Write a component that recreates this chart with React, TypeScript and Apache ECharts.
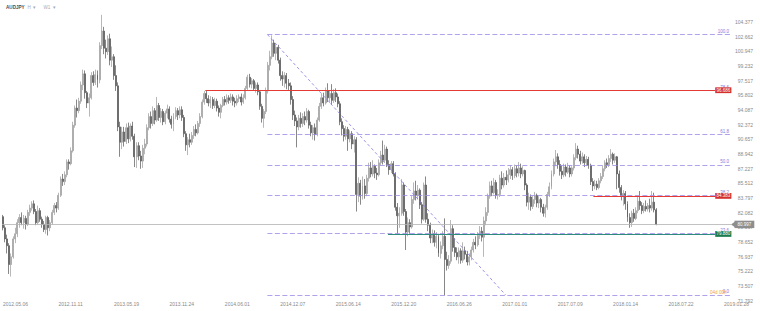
import React, { useEffect, useRef } from "react";
import * as echarts from "echarts";

// ---- Axis texts ----
const xTickLabels = [
  "2012.05.06", "2012.11.11", "2013.05.19", "2013.11.24", "2014.06.01", "2014.12.07", "2015.06.14",
  "2015.12.20", "2016.06.26", "2017.01.01", "2017.07.09", "2018.01.14", "2018.07.22", "2019.01.28",
];
const WEEKS_PER_LABEL = 27;
const TOTAL_SLOTS = 369; // weekly slots shown on the x axis (incl. empty future space)
const yMin = 71.792;
const yMax = 106.092;
const yStep = 1.715;

// ---- Weekly candles [open, close, low, high] ----
const candles2012to2013: number[][] = [
  [81.9, 80.6, 80.3, 82.1], [80.6, 79.3, 78.9, 80.9], [79.3, 78.5, 77.6, 79.8], [78.5, 76.3, 75.2, 78.8],
  [76.3, 77.2, 74.9, 77.6], [77.2, 79.3, 77.0, 79.6], [79.3, 79.9, 78.8, 80.6], [79.9, 81.2, 79.5, 81.6],
  [81.2, 81.8, 80.6, 82.2], [81.8, 81.2, 80.9, 82.4], [81.2, 81.7, 80.5, 82.1], [81.7, 81.0, 80.4, 82.0],
  [81.0, 82.4, 80.8, 82.7], [82.4, 82.9, 82.0, 83.3], [82.9, 83.4, 82.6, 83.7], [83.4, 82.5, 82.2, 83.8],
  [82.5, 81.2, 80.9, 82.8], [81.2, 82.6, 81.0, 83.2], [82.6, 81.6, 81.3, 82.9], [81.6, 81.0, 80.6, 81.9],
  [81.0, 80.4, 80.1, 81.4], [80.4, 81.8, 79.9, 82.0], [81.8, 80.6, 79.7, 82.0], [80.6, 81.2, 80.2, 81.5],
  [81.2, 82.4, 81.0, 82.7], [82.4, 83.2, 82.1, 83.5], [83.2, 82.9, 82.4, 83.6], [82.9, 84.4, 82.7, 84.7],
  [84.4, 86.3, 84.2, 86.6], [86.3, 86.0, 85.5, 86.9], [86.0, 86.8, 85.6, 87.2], [86.8, 88.3, 86.5, 88.6],
  [88.3, 88.1, 87.4, 88.6], [88.1, 89.6, 87.9, 90.0], [89.6, 92.6, 89.4, 93.0], [92.6, 94.6, 92.3, 94.9],
  [94.6, 94.3, 93.5, 95.6], [94.3, 95.4, 94.0, 95.8], [95.4, 97.3, 95.1, 97.7], [97.3, 98.6, 96.7, 99.1],
  [98.6, 96.4, 95.7, 99.0], [96.4, 95.2, 94.6, 96.6], [95.2, 95.8, 93.6, 96.3], [95.8, 98.4, 95.6, 98.8],
  [98.4, 97.6, 97.2, 98.9], [97.6, 98.5, 97.3, 99.1], [98.5, 97.9, 97.0, 99.0], [97.9, 101.9, 97.5, 102.3],
  [101.9, 103.6, 101.5, 105.5], [103.6, 101.6, 100.9, 104.1], [101.6, 101.2, 100.4, 102.6], [101.2, 102.7, 100.8, 103.1],
  [102.7, 100.2, 99.6, 103.3], [100.2, 100.6, 99.4, 101.8], [100.6, 98.4, 97.9, 100.9], [98.4, 97.2, 96.6, 99.6],
  [97.2, 92.4, 91.9, 97.6], [92.4, 90.6, 88.9, 93.0], [90.6, 91.8, 89.8, 92.4], [91.8, 90.7, 90.1, 92.4],
  [90.7, 92.3, 90.4, 92.8], [92.3, 91.0, 90.5, 92.9], [91.0, 92.5, 90.7, 92.8], [92.5, 91.3, 90.9, 93.0],
  [91.3, 88.9, 87.7, 91.6],
];

const candles2013to2014: number[][] = [
  [88.9, 90.2, 87.6, 90.6], [90.2, 89.0, 88.5, 90.6], [89.0, 88.4, 87.5, 89.6], [88.4, 89.9, 87.6, 90.3],
  [89.9, 90.4, 89.2, 91.0], [90.4, 92.3, 90.1, 92.7], [92.3, 93.6, 92.0, 94.0], [93.6, 92.8, 92.2, 94.2],
  [92.8, 94.3, 92.5, 94.8], [94.3, 93.2, 92.7, 94.6], [93.2, 94.9, 93.0, 95.9], [94.9, 93.5, 93.1, 95.2],
  [93.5, 94.2, 92.9, 94.6], [94.2, 93.0, 92.6, 94.5], [93.0, 94.0, 92.7, 94.3], [94.0, 94.5, 93.4, 95.0],
  [94.5, 93.3, 92.9, 94.8], [93.3, 92.7, 92.2, 93.7], [92.7, 93.6, 91.9, 94.0], [93.6, 94.3, 93.3, 94.7],
  [94.3, 93.8, 93.2, 94.6], [93.8, 94.4, 93.4, 94.8], [94.4, 93.5, 93.1, 94.8], [93.5, 91.6, 91.2, 93.8],
  [91.6, 90.3, 89.6, 91.9], [90.3, 90.9, 89.1, 91.2], [90.9, 90.6, 90.0, 91.6], [90.6, 91.4, 90.3, 91.8],
  [91.4, 92.1, 91.0, 92.5], [92.1, 91.7, 91.3, 92.7], [91.7, 92.8, 91.5, 93.1], [92.8, 93.6, 92.4, 94.0],
  [93.6, 95.3, 93.4, 95.6], [95.3, 96.3, 95.0, 96.6], [96.3, 95.7, 95.2, 96.7], [95.7, 95.2, 94.8, 96.1],
  [95.2, 95.6, 94.6, 96.0], [95.6, 94.9, 94.5, 95.9], [94.9, 95.4, 94.6, 95.8], [95.4, 94.6, 94.2, 95.7],
  [94.6, 94.1, 93.6, 94.9], [94.1, 94.9, 93.4, 95.1], [94.9, 95.6, 94.7, 95.9], [95.6, 95.3, 94.9, 96.0],
  [95.3, 95.8, 95.0, 96.2], [95.8, 95.5, 95.1, 96.1], [95.5, 95.9, 95.2, 96.3], [95.9, 95.4, 94.9, 96.2],
  [95.4, 95.2, 94.7, 95.8], [95.2, 95.7, 94.9, 96.1], [95.7, 95.9, 95.3, 96.2], [95.9, 95.3, 94.9, 96.3],
  [95.3, 95.8, 95.1, 96.2], [95.8, 96.9, 95.6, 97.2], [96.9, 98.2, 96.7, 98.5], [98.2, 97.4, 97.0, 98.6],
  [97.4, 97.8, 96.9, 98.1], [97.8, 96.9, 96.6, 98.0], [96.9, 97.3, 96.4, 97.6], [97.3, 96.5, 96.1, 97.6],
  [96.5, 94.8, 94.4, 96.6], [94.8, 93.4, 92.9, 95.1], [93.4, 94.2, 92.3, 94.5], [94.2, 96.6, 93.9, 97.0],
];

const candles2014to2016: number[][] = [
  [96.6, 99.6, 96.3, 100.0], [99.6, 100.6, 99.0, 101.3], [100.6, 102.2, 100.3, 103.1], [102.2, 101.0, 100.6, 102.6],
  [101.0, 101.7, 100.2, 102.1], [101.7, 100.2, 99.8, 102.0], [100.2, 98.4, 97.8, 100.5], [98.4, 98.0, 97.2, 98.9],
  [98.0, 98.4, 97.0, 98.8], [98.4, 97.5, 96.8, 98.7], [97.5, 97.2, 96.6, 98.0], [97.2, 95.6, 95.0, 97.6],
  [95.6, 93.8, 93.2, 96.0], [93.8, 93.1, 92.5, 94.3], [93.1, 92.4, 90.0, 93.5], [92.4, 93.4, 92.0, 93.8],
  [93.4, 92.8, 92.3, 94.1], [92.8, 93.6, 92.4, 94.0], [93.6, 93.2, 92.6, 94.2], [93.2, 94.2, 92.9, 94.6],
  [94.2, 92.6, 92.2, 94.4], [92.6, 91.7, 91.3, 93.0], [91.7, 92.3, 90.9, 92.6], [92.3, 91.5, 90.8, 92.8],
  [91.5, 93.2, 91.3, 93.5], [93.2, 94.8, 93.0, 95.2], [94.8, 95.8, 94.5, 96.3], [95.8, 95.2, 94.8, 96.4],
  [95.2, 96.6, 95.0, 97.0], [96.6, 95.8, 95.3, 97.5], [95.8, 96.3, 95.2, 96.7], [96.3, 95.5, 95.0, 97.4],
  [95.5, 96.4, 95.2, 96.8], [96.4, 95.9, 95.3, 96.9], [95.9, 95.1, 94.7, 96.3], [95.1, 93.0, 92.6, 95.4],
  [93.0, 92.2, 91.4, 93.4], [92.2, 91.3, 90.7, 92.6], [91.3, 92.1, 90.9, 92.5], [92.1, 91.0, 89.6, 92.4],
  [91.0, 91.6, 90.6, 92.0], [91.6, 90.4, 89.8, 91.9], [90.4, 90.9, 89.4, 91.3], [90.9, 84.5, 82.5, 91.2],
  [84.5, 85.8, 83.6, 86.5], [85.8, 84.3, 83.3, 86.2], [84.3, 85.5, 83.9, 86.6], [85.5, 84.6, 84.0, 86.3],
  [84.6, 86.4, 84.3, 86.8], [86.4, 87.6, 86.0, 88.2], [87.6, 86.9, 86.5, 88.3], [86.9, 87.8, 86.6, 88.5],
  [87.8, 87.0, 86.4, 88.0], [87.0, 86.8, 86.2, 87.6], [86.8, 88.2, 86.6, 88.6], [88.2, 89.1, 87.9, 89.6],
  [89.1, 88.5, 88.0, 90.8], [88.5, 89.8, 88.2, 90.3], [89.8, 88.0, 87.7, 90.1], [88.0, 87.4, 86.8, 88.5],
  [87.4, 88.1, 87.0, 88.4], [88.1, 86.9, 86.6, 88.4], [86.9, 83.0, 82.6, 87.1], [83.0, 82.0, 79.8, 83.5],
];

const candles2016to2017: number[][] = [
  [82.0, 82.3, 80.6, 83.0], [82.3, 85.6, 82.0, 86.3], [85.6, 82.5, 82.0, 85.9], [82.5, 80.1, 78.0, 82.8],
  [80.1, 81.2, 79.6, 81.8], [81.2, 80.7, 79.9, 81.6], [80.7, 83.9, 80.5, 84.3], [83.9, 84.9, 83.4, 85.9],
  [84.9, 84.4, 83.8, 86.1], [84.4, 85.0, 83.9, 85.6], [85.0, 83.3, 82.8, 85.2], [83.3, 81.6, 81.1, 83.6],
  [81.6, 85.6, 81.4, 85.9], [85.6, 81.6, 81.2, 86.6], [81.6, 80.9, 80.2, 82.3], [80.9, 79.4, 78.8, 81.2],
  [79.4, 79.9, 78.8, 80.4], [79.9, 78.9, 78.4, 80.3], [78.9, 79.6, 78.2, 80.1], [79.6, 77.6, 77.2, 79.9],
  [77.6, 78.5, 77.0, 79.0], [78.5, 79.6, 78.1, 80.2], [79.6, 76.9, 72.7, 81.7], [76.9, 76.2, 75.6, 77.8],
  [76.2, 76.7, 75.8, 77.4], [76.7, 80.5, 76.4, 81.5], [80.5, 78.3, 77.8, 80.9], [78.3, 77.7, 77.2, 79.4],
  [77.7, 77.2, 76.8, 78.3], [77.2, 77.9, 76.4, 78.3], [77.9, 76.8, 76.4, 78.2], [76.8, 77.9, 76.5, 78.9],
  [77.9, 77.5, 76.9, 78.4], [77.5, 76.6, 76.2, 77.9], [76.6, 77.2, 76.2, 77.6], [77.2, 78.0, 76.8, 78.4],
  [78.0, 78.9, 77.7, 79.3], [78.9, 78.6, 78.1, 79.6], [78.6, 79.7, 78.4, 80.1], [79.7, 80.2, 79.3, 80.8],
  [80.2, 79.5, 79.0, 80.7], [79.5, 81.4, 77.2, 81.9], [81.4, 82.4, 80.9, 83.0], [82.4, 84.3, 82.0, 84.6],
  [84.3, 85.5, 84.0, 86.0], [85.5, 84.7, 84.3, 86.1], [84.7, 85.9, 84.5, 86.4], [85.9, 84.4, 84.0, 86.2],
  [84.4, 84.5, 83.9, 85.1], [84.5, 86.4, 84.2, 86.8], [86.4, 85.6, 85.1, 87.2], [85.6, 86.5, 85.3, 87.0],
  [86.5, 86.2, 85.6, 87.3], [86.2, 86.8, 85.9, 87.6], [86.8, 87.4, 86.3, 87.9], [87.4, 86.7, 86.2, 87.7],
  [86.7, 87.5, 86.4, 88.0], [87.5, 87.0, 86.5, 87.9], [87.0, 87.6, 86.6, 88.3], [87.6, 86.9, 86.4, 88.1],
  [86.9, 87.3, 86.6, 87.8], [87.3, 85.6, 85.0, 87.4], [85.6, 83.6, 83.1, 85.8], [83.6, 84.2, 82.7, 84.7],
];

const candles2017to2018: number[][] = [
  [84.2, 83.1, 82.6, 84.5], [83.1, 83.9, 82.8, 84.3], [83.9, 84.4, 83.4, 84.8], [84.4, 83.5, 83.0, 84.6],
  [83.5, 83.9, 82.9, 84.3], [83.9, 83.0, 82.4, 84.1], [83.0, 82.3, 81.9, 83.4], [82.3, 83.0, 81.8, 83.3],
  [83.0, 84.5, 82.7, 84.8], [84.5, 85.4, 84.2, 85.9], [85.4, 86.9, 85.1, 87.3], [86.9, 88.3, 86.6, 88.7],
  [88.3, 88.9, 87.8, 89.7], [88.9, 88.0, 87.5, 89.3], [88.0, 87.2, 86.7, 88.5], [87.2, 86.8, 86.3, 87.9],
  [86.8, 87.7, 86.5, 88.1], [87.7, 87.1, 86.6, 88.0], [87.1, 87.6, 86.9, 88.2], [87.6, 86.9, 86.5, 87.9],
  [86.9, 87.6, 86.6, 87.8], [87.6, 88.8, 87.3, 89.2], [88.8, 89.8, 88.5, 90.5], [89.8, 89.2, 88.7, 90.2],
  [89.2, 88.4, 88.0, 89.6], [88.4, 88.9, 88.1, 89.4], [88.9, 88.2, 87.7, 89.2], [88.2, 88.6, 87.8, 89.0],
  [88.6, 87.9, 87.5, 88.9], [87.9, 86.0, 85.6, 88.1], [86.0, 85.5, 84.9, 86.4], [85.5, 85.7, 85.1, 86.2],
  [85.7, 85.3, 85.0, 86.1], [85.3, 86.1, 85.1, 86.4], [86.1, 86.6, 85.8, 87.0], [86.6, 87.5, 86.3, 87.9],
  [87.5, 88.2, 87.2, 88.5], [88.2, 88.0, 87.6, 88.7], [88.0, 88.7, 87.7, 89.1], [88.7, 89.2, 88.3, 89.8],
  [89.2, 88.5, 88.0, 89.4], [88.5, 88.9, 88.2, 89.3], [88.9, 86.9, 85.1, 89.0], [86.9, 85.3, 84.7, 87.3],
  [85.3, 84.3, 83.8, 85.6], [84.3, 84.6, 83.2, 85.0], [84.6, 83.4, 82.7, 84.9], [83.4, 81.8, 81.3, 83.7],
  [81.8, 81.2, 80.6, 82.3], [81.2, 82.3, 80.7, 82.6], [82.3, 81.7, 81.3, 82.8], [81.7, 82.6, 81.5, 83.0],
  [82.6, 83.7, 82.3, 84.3], [83.7, 83.2, 82.7, 84.9], [83.2, 82.6, 82.2, 83.6], [82.6, 83.1, 82.3, 83.5],
  [83.1, 82.8, 82.5, 83.8], [82.8, 83.2, 82.5, 83.5], [83.2, 82.9, 82.4, 84.0], [82.9, 83.6, 82.6, 84.9],
  [83.6, 82.7, 82.4, 84.7], [82.7, 80.997, 80.9, 82.9],
];

// ---- Drawings (week index on x, price on y) ----
const fibHigh = { week: 128.7, price: 103.2 };
const fibLow = { week: 244.7, price: 72.74 };
const fibLevels = [0, 23.6, 38.2, 50, 61.8, 78.6, 100];
const fibEndWeek = 353.9;
const resistanceTop = { from: 98.5, to: 346.7, price: 96.686, text: "96.686" };
const resistanceLow = { from: 287.4, to: 346.7, price: 84.33, text: "84.383" };
const supportLine = { from: 187.4, to: 346.7, price: 79.88, text: "79.880" };
const lastPrice = { from: -0.5, to: 354.4, price: 80.997, text: "80.997" };

const FONT = "Liberation Sans, Arial, sans-serif";
const FIB_COLOR = "#9d8ae6";
const FIB_TEXT = "#8a78dc";

export default function App() {
  const ref = useRef<HTMLDivElement>(null);

  useEffect(() => {
    if (!ref.current) return;
    const chart = echarts.init(ref.current, undefined, { renderer: "svg" });
    const candles = [
      ...candles2012to2013,
      ...candles2013to2014,
      ...candles2014to2016,
      ...candles2016to2017,
      ...candles2017to2018,
    ];
    const slots = Array.from({ length: TOTAL_SLOTS }, (_, i) => String(i));

    const fibLines = fibLevels.map((r) => {
      const p = fibLow.price + (r / 100) * (fibHigh.price - fibLow.price);
      const lineStyle = { color: FIB_COLOR, width: 0.8, type: [5, 2.5] };
      return [
        {
          coord: [fibHigh.week, p],
          lineStyle,
          label: {
            show: true,
            position: "insideEndTop",
            formatter: r.toFixed(1),
            color: FIB_TEXT,
            fontSize: 4.5,
            lineHeight: 5,
            fontFamily: FONT,
            distance: [1, 0.5],
          },
        },
        { coord: [fibEndWeek, p], lineStyle },
      ];
    });

    const tagLine = (l: any, lineColor: string, tagColor: string, width: number, dist: number, pad: number[]) => {
      const lineStyle = { color: lineColor, width, type: "solid", opacity: 1 };
      return [
        {
          coord: [l.from, l.price],
          lineStyle,
          label: {
            show: true,
            position: "end",
            formatter: l.text,
            color: "#ffffff",
            backgroundColor: tagColor,
            padding: pad,
            fontSize: 4.5,
            lineHeight: 5,
            fontFamily: FONT,
            distance: dist,
          },
        },
        { coord: [l.to, l.price], lineStyle },
      ];
    };

    const helperSeries = (key: string, z: number, lines: any[], extra: any = {}) => ({
      id: key,
      type: "line",
      xAxisIndex: 1,
      yAxisIndex: 0,
      data: [[lastPrice.to, lastPrice.price]],
      symbol: "none",
      silent: true,
      z,
      lineStyle: { width: 0 },
      markLine: { symbol: "none", silent: true, animation: false, data: lines },
      ...extra,
    });

    const option: any = {
      animation: false,
      backgroundColor: "#ffffff",
      textStyle: { fontFamily: FONT },
      grid: { left: 0, right: 0, top: 9.8, bottom: 7.9, containLabel: false },
      xAxis: [
        {
          type: "category",
          data: slots,
          boundaryGap: true,
          axisLine: { show: false },
          axisTick: { show: false },
          splitLine: { show: false },
          axisLabel: {
            interval: (i: number) => i % WEEKS_PER_LABEL === 0,
            formatter: (_v: string, i: number) => xTickLabels[i / WEEKS_PER_LABEL] ?? "",
            align: "left",
            fontSize: 5,
            color: "#8a8a8a",
            margin: -1.5,
            fontFamily: FONT,
          },
        },
        { type: "value", min: -0.5, max: TOTAL_SLOTS - 0.5, show: false },
      ],
      yAxis: {
        type: "value",
        position: "right",
        min: yMin,
        max: yMax,
        interval: yStep,
        axisLine: { show: false },
        axisTick: { show: false },
        splitLine: { show: false },
        axisLabel: {
          inside: true,
          margin: 7,
          fontSize: 5,
          color: "#8a8a8a",
          verticalAlign: "bottom",
          showMaxLabel: false,
          showMinLabel: true,
          fontFamily: FONT,
          formatter: (v: number) => v.toFixed(3),
        },
      },
      graphic: [
        { type: "text", left: 6, top: 4.5, style: { text: "AUDJPY", fill: "#4d4d4d", font: `bold 4.6px ${FONT}` } },
        { type: "text", left: 27.5, top: 4.5, style: { text: "H  ▾", fill: "#a3abba", font: `4.6px ${FONT}` } },
        { type: "text", left: 43.5, top: 4.5, style: { text: "W1  ▾", fill: "#a3abba", font: `4.6px ${FONT}` } },
        { type: "text", left: 710, top: 290, z: 20, style: { text: "04d 00h", fill: "#f2a63a", font: `4.6px ${FONT}` } },
      ],
      series: [
        {
          type: "candlestick",
          xAxisIndex: 0,
          yAxisIndex: 0,
          data: candles,
          barWidth: "72%",
          itemStyle: {
            color: "#bcbcbc",
            color0: "#555555",
            borderColor: "#9a9a9a",
            borderColor0: "#555555",
            borderWidth: 0.7,
          },
        },
        {
          type: "line",
          xAxisIndex: 1,
          yAxisIndex: 0,
          data: [
            [fibHigh.week, fibHigh.price],
            [fibLow.week, fibLow.price],
          ],
          symbol: "none",
          silent: true,
          z: 3,
          lineStyle: { color: "#8577e0", width: 0.8, type: [3, 2.5] },
          markLine: { symbol: "none", silent: true, animation: false, data: fibLines },
        },
        helperSeries("lastPrice", 4, [tagLine(lastPrice, "#b3b3b3", "#8e8e8e", 0.8, 3.5, [1.2, 3])], {
          markPoint: {
            silent: true,
            animation: false,
            data: [
              {
                coord: [lastPrice.to, lastPrice.price],
                symbol: "triangle",
                symbolRotate: 90,
                symbolSize: [7.4, 5],
                symbolOffset: [2.5, 0],
                itemStyle: { color: "#8e8e8e" },
                label: { show: false },
              },
            ],
          },
        }),
        helperSeries("support", 5, [tagLine(supportLine, "#2e8b7f", "#1c7a4f", 1, 0, [0.4, 1.2])]),
        helperSeries("resTop", 6, [tagLine(resistanceTop, "#e53935", "#d32f2f", 1, 0, [0.4, 1.2])]),
        helperSeries("resLow", 7, [tagLine(resistanceLow, "#e53935", "#d32f2f", 1, 0, [0.4, 1.2])]),
      ],
    };

    chart.setOption(option);
    return () => chart.dispose();
  }, []);

  return (
    <div
      ref={ref}
      style={{ position: "fixed", left: 0, top: 0, width: 760, height: 311, background: "#fff" }}
    />
  );
}
